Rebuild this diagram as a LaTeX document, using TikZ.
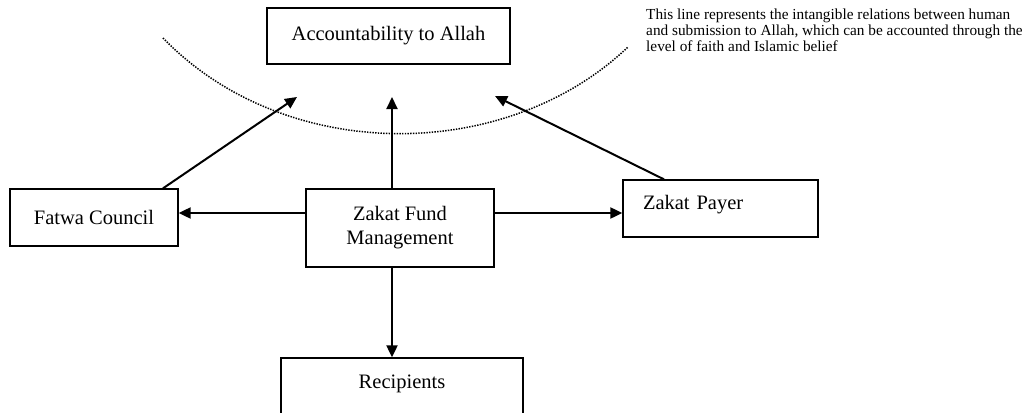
\documentclass[tikz,border=0pt]{standalone}
\usepackage{fontspec}
\setmainfont{Liberation Serif}
\usepackage{tikz}
\usetikzlibrary{arrows.meta}

\tikzset{
    box/.style={draw, line width=1.3pt, rectangle, inner sep=0pt, align=center,
        font=\fontsize{20.5}{24}\selectfont},
    arr/.style={line width=2pt, -{Triangle[length=12pt,width=11pt]}},
    faithline/.style={line width=1.5pt, dash pattern=on 1.4pt off 1.3pt}
}

\begin{document}
\begin{tikzpicture}[x=1pt, y=-1pt]
            \useasboundingbox (0,0) rectangle (1035,412);
            \node[box, minimum width=243pt, minimum height=56pt] (acc) at (388.5,36) {Accountability to Allah};
            \node[box, minimum width=168pt, minimum height=57pt] (fatwa) at (94,217.5) {Fatwa Council};
            \node[box, minimum width=188pt, minimum height=78pt] (zfm) at (400,228) {Zakat Fund\\Management};
            \node[box, minimum width=195pt, minimum height=57pt, text width=155pt, inner xsep=20pt,
                align=left, text depth=12pt] (payer) at (720.5,208.5) {Zakat Payer};
            \node[box, minimum width=242pt, minimum height=62pt, text depth=15pt] (rec) at (402,389) {Recipients};

            \node[anchor=north west, inner sep=0pt, align=left,
                font=\fontsize{15.3}{15.7}\selectfont] (note) at (646,9)
                {This line represents the intangible relations between human\\
                and submission to Allah, which can be accounted through the\\
                level of faith and Islamic belief};

            \draw[faithline]  (163,38) .. controls (285,164) and (505,164) .. (628,47);

            \coordinate (accL) at (297,97);
            \coordinate (accM) at (392,97);
            \coordinate (accR) at (495,96);

            \draw[arr]  ([xshift=69pt]fatwa.north) -- (accL);
            \draw[arr]  ([xshift=-8pt]zfm.north) -- (accM);
            \draw[arr]  ([xshift=-56.5pt]payer.north) -- (accR);
            \draw[arr]  ([yshift=15pt]zfm.west) -- ([yshift=15pt]zfm.west -| fatwa.east);
            \draw[arr]  ([yshift=15pt]zfm.east) -- ([yshift=15pt]zfm.east -| payer.west);
            \draw[arr]  ([xshift=-8pt]zfm.south) -- ([xshift=-8pt]zfm.south |- rec.north);
        \end{tikzpicture}
\end{document}
